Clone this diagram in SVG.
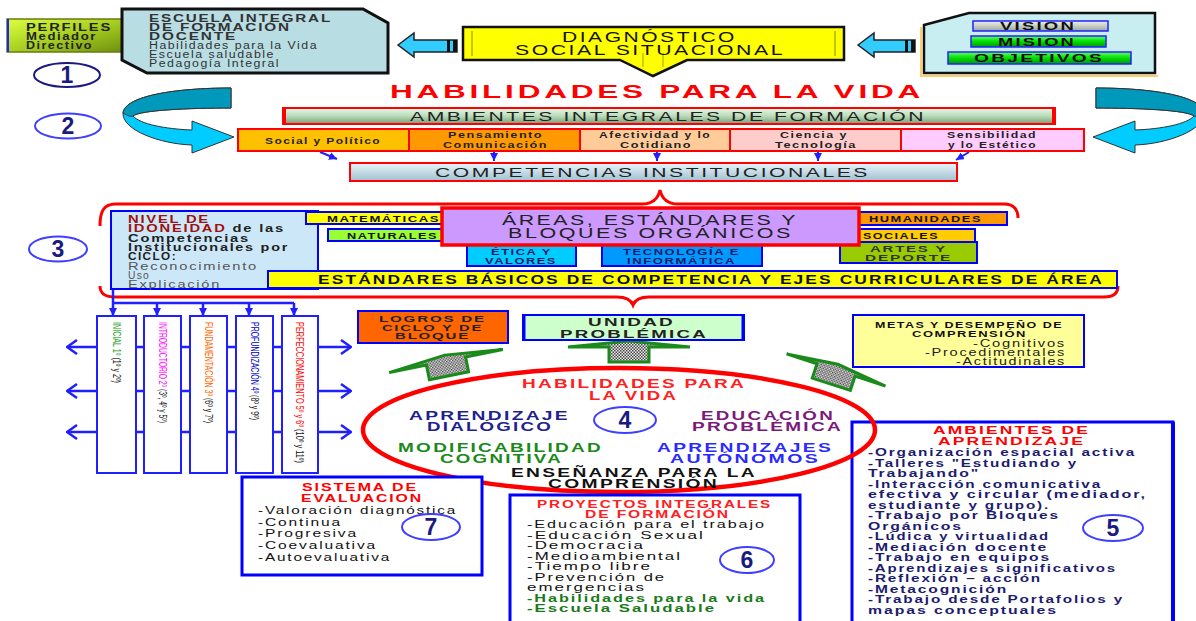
<svg xmlns="http://www.w3.org/2000/svg" width="1196" height="621" viewBox="0 0 1196 621">
<defs>
<style>
text{font-family:"Liberation Sans",Arial,Helvetica,sans-serif;letter-spacing:0.12em;}
.b{font-weight:bold;}
.c{stroke:#1f1fff;stroke-width:2.5;fill:none;}
.cs{stroke:#1f1fff;stroke-width:2;fill:none;}
.bb{stroke:#0000ff;stroke-width:2;}
.rb{stroke:#ff0000;stroke-width:2;}
.ne{fill:#fff;stroke:#3f3fff;stroke-width:2;}
.n{font-weight:bold;font-size:23px;fill:#1a1a80;text-anchor:middle;letter-spacing:0;}
.cat{font-size:9.5px;font-weight:bold;fill:#222;}
.el{font-size:12px;font-weight:bold;}
.col{fill:#fff;stroke:#1f1fff;stroke-width:2;}
.vt{font-size:11.5px;letter-spacing:0;}
.ga{fill:url(#chk);stroke:#1a8a1a;stroke-width:3;stroke-linejoin:miter;}
.sa{fill:#33ccff;stroke:#222;stroke-width:1.5;}
.ca{fill:#00ccff;stroke:#333;stroke-width:1;}
.cad{fill:#0099bb;stroke:#333;stroke-width:1;}
.brace{fill:none;stroke:#ff0000;stroke-width:3;}
.it{font-size:11px;fill:#111;}
.pr{font-size:10.5px;fill:#111;}
.am{font-size:10.5px;font-weight:bold;fill:#1c1c6e;}
</style>
<linearGradient id="gPer" x1="0" y1="0" x2="1" y2="1"><stop offset="0" stop-color="#dcff40"/><stop offset="0.5" stop-color="#a8d020"/><stop offset="1" stop-color="#6f8f10"/></linearGradient>
<linearGradient id="gAmb" x1="0" y1="0" x2="0" y2="1"><stop offset="0" stop-color="#eaf8ea"/><stop offset="0.5" stop-color="#b8dcb8"/><stop offset="1" stop-color="#7a9a7a"/></linearGradient>
<linearGradient id="gComp" x1="0" y1="0" x2="0" y2="1"><stop offset="0" stop-color="#e8f6fc"/><stop offset="1" stop-color="#9fc0d0"/></linearGradient>
<linearGradient id="gVis" x1="0" y1="0" x2="0" y2="1"><stop offset="0" stop-color="#f2f2f2"/><stop offset="1" stop-color="#98a898"/></linearGradient>
<linearGradient id="gMis" x1="0" y1="0" x2="0" y2="1"><stop offset="0" stop-color="#66ff66"/><stop offset="0.5" stop-color="#00dd00"/><stop offset="1" stop-color="#009900"/></linearGradient>
<pattern id="chk" width="3" height="3" patternUnits="userSpaceOnUse"><rect width="3" height="3" fill="#eee"/><rect width="1.5" height="1.5" fill="#444"/><rect x="1.5" y="1.5" width="1.5" height="1.5" fill="#444"/></pattern>
<marker id="tri" viewBox="0 0 10 10" refX="10" refY="5" markerWidth="8" markerHeight="8" markerUnits="userSpaceOnUse" orient="auto"><path d="M0,0 L10,5 L0,10 z" fill="#1f1fff"/></marker>
<marker id="chev" viewBox="0 0 12 16" refX="11" refY="8" markerWidth="12" markerHeight="16" markerUnits="userSpaceOnUse" orient="auto"><path d="M1,1 L11,8 L1,15" fill="none" stroke="#1f1fff" stroke-width="2.5"/></marker>
</defs>
<rect width="1196" height="621" fill="#fff"/>

<g id="connectors">
  <g id="arrow-left-top">
    <path class="sa" d="M398,45 L414,33 L414,40 L457,40 L457,52 L414,52 L414,57 Z"/>
    <rect x="447" y="40" width="3" height="12" fill="#111"/><rect x="453" y="40" width="4" height="12" fill="#111"/>
  </g>
  <g id="arrow-right-top">
    <path class="sa" d="M858,45 L874,33 L874,40 L915,40 L915,52 L874,52 L874,57 Z"/>
    <rect x="905" y="40" width="3" height="12" fill="#111"/><rect x="911" y="40" width="4" height="12" fill="#111"/>
  </g>
  <g id="curve-left">
    <path class="ca" d="M231,88 C175,88 125,96 123,113 C122,130 160,144 192,145 L192,153 L234,137 L192,121 L192,130 C165,129 140,124 133,116 C140,110 190,108 231,108 Z"/>
    <path class="cad" d="M231,88 C175,88 125,96 123,113 C128,116 131,117 133,116 C140,110 190,108 231,108 Z"/>
  </g>
  <g id="curve-right" transform="matrix(-1,0,0,1,1327,0)">
    <path class="ca" d="M231,88 C175,88 125,96 123,113 C122,130 160,144 192,145 L192,153 L234,137 L192,121 L192,130 C165,129 140,124 133,116 C140,110 190,108 231,108 Z"/>
    <path class="cad" d="M231,88 C175,88 125,96 123,113 C128,116 131,117 133,116 C140,110 190,108 231,108 Z"/>
  </g>
  <path class="cs" d="M320,152 L337,159" marker-end="url(#tri)"/>
  <path class="cs" d="M494,152 V161" marker-end="url(#tri)"/>
  <path class="cs" d="M657,152 V161" marker-end="url(#tri)"/>
  <path class="cs" d="M818,152 V161" marker-end="url(#tri)"/>
  <path class="cs" d="M969,152 L956,160" marker-end="url(#tri)"/>
  <path class="brace" d="M100,226 C100,212 103,204 116,204 L642,204 C653,204 658,199 660,190 C662,199 667,204 678,204 L1004,204 C1013,204 1018,209 1018,218"/>
  <path class="brace" d="M100,286 C100,293 104,297 116,297 L617,297 C627,297 631,300 633,305 C635,300 639,297 649,297 L1104,297 C1114,297 1118,293 1118,286"/>
  <path class="c" d="M113,289 V316" marker-end="url(#tri)"/>
  <path class="c" d="M113,303 H294"/>
  <path class="c" d="M157,303 V316" marker-end="url(#tri)"/>
  <path class="c" d="M203,303 V316" marker-end="url(#tri)"/>
  <path class="c" d="M249,303 V316" marker-end="url(#tri)"/>
  <path class="c" d="M294,303 V316" marker-end="url(#tri)"/>
  <path class="c" d="M97,347 H318 M97,391 H318 M97,432 H318"/>
  <path class="c" d="M97,347 H67" marker-end="url(#chev)"/>
  <path class="c" d="M97,391 H67" marker-end="url(#chev)"/>
  <path class="c" d="M97,432 H67" marker-end="url(#chev)"/>
  <path class="c" d="M318,347 H351" marker-end="url(#chev)"/>
  <path class="c" d="M318,391 H351" marker-end="url(#chev)"/>
  <path class="c" d="M318,432 H351" marker-end="url(#chev)"/>
  <polygon class="ga" transform="translate(446,361) rotate(-11.5)" points="-20,15 20,15 20,0 58,0 0,-6 -58,0 -20,0"/>
  <polygon class="ga" transform="translate(629,347)" points="-20,15 20,15 20,0 61,0 0,-6 -61,0 -20,0"/>
  <polygon class="ga" transform="translate(836,370) rotate(18)" points="-20,15 20,15 20,0 52,0 0,-6 -52,0 -20,0"/>
</g>

<g id="perfiles">
  <rect x="7" y="19" width="115" height="33" fill="url(#gPer)" stroke="#6b7a10" stroke-width="1.5"/>
  <line x1="8" y1="19" x2="8" y2="52" stroke="#2020ff" stroke-width="2"/>
  <text class="b" font-size="10" x="26" y="31" textLength="86" lengthAdjust="spacingAndGlyphs" fill="#222">PERFILES</text>
  <text class="b" font-size="10" x="26" y="40" textLength="71" lengthAdjust="spacingAndGlyphs" fill="#222">Mediador</text>
  <text class="b" font-size="10" x="26" y="49" textLength="67" lengthAdjust="spacingAndGlyphs" fill="#222">Directivo</text>
</g>

<g id="escuela">
  <path d="M122,9 H363 L388,23 V73 H147 L122,60 Z" fill="#b8dde3" stroke="#111" stroke-width="3"/>
  <text class="b" font-size="10" x="149" y="22" textLength="183" lengthAdjust="spacingAndGlyphs" fill="#333">ESCUELA INTEGRAL</text>
  <text class="b" font-size="10" x="149" y="31" textLength="142" lengthAdjust="spacingAndGlyphs" fill="#333">DE FORMACIÓN</text>
  <text class="b" font-size="10" x="149" y="40" textLength="88" lengthAdjust="spacingAndGlyphs" fill="#333">DOCENTE</text>
  <text font-size="10" x="149" y="49" textLength="169" lengthAdjust="spacingAndGlyphs" fill="#333">Habilidades para la Vida</text>
  <text font-size="10" x="149" y="58" textLength="126" lengthAdjust="spacingAndGlyphs" fill="#333">Escuela saludable</text>
  <text font-size="10" x="149" y="67" textLength="131" lengthAdjust="spacingAndGlyphs" fill="#333">Pedagogía Integral</text>
</g>

<g id="diagnostico">
  <path d="M463,27 H844 V60 H687 L653,76 L620,60 H463 Z" fill="#ffff00" stroke="#111" stroke-width="2.5"/>
  <line x1="472" y1="31" x2="472" y2="56" stroke="#b0b000" stroke-width="1.5"/>
  <line x1="835" y1="31" x2="835" y2="56" stroke="#b0b000" stroke-width="1.5"/>
  <line x1="643" y1="53" x2="643" y2="67" stroke="#b0b000" stroke-width="1.2"/>
  <line x1="663" y1="53" x2="663" y2="67" stroke="#b0b000" stroke-width="1.2"/>
  <text font-size="14.5" x="562" y="42" textLength="175" lengthAdjust="spacingAndGlyphs" fill="#111">DIAGNÓSTICO</text>
  <text font-size="14.5" x="515" y="55" textLength="270" lengthAdjust="spacingAndGlyphs" fill="#111">SOCIAL SITUACIONAL</text>
</g>

<g id="vision">
  <path d="M921,27 V76 H1158" fill="none" stroke="#ffcc66" stroke-width="2"/>
  <path d="M924,25 L969,13 H1155 V73 H924 Z" fill="#c8eef2" stroke="#111" stroke-width="2.5"/>
  <rect x="973" y="21" width="135" height="10" fill="url(#gVis)" stroke="#2020ff" stroke-width="1.5"/>
  <rect x="971" y="36" width="135" height="11" fill="url(#gMis)" stroke="#2020ff" stroke-width="1.5"/>
  <rect x="948" y="52" width="183" height="12" fill="url(#gMis)" stroke="#2020ff" stroke-width="1.5"/>
  <text class="b" font-size="11" x="1000" y="30" textLength="76" lengthAdjust="spacingAndGlyphs" fill="#111">VISION</text>
  <text class="b" font-size="11" x="998" y="46" textLength="78" lengthAdjust="spacingAndGlyphs" fill="#111">MISION</text>
  <text class="b" font-size="11" x="974" y="62" textLength="130" lengthAdjust="spacingAndGlyphs" fill="#111">OBJETIVOS</text>
</g>

<g id="n1"><ellipse cx="67" cy="75" rx="33" ry="12" fill="#fff" stroke="#1a1a80" stroke-width="2"/><text class="n" x="67" y="83">1</text></g>
<g id="n2"><ellipse class="ne" cx="68" cy="126" rx="33" ry="12.5"/><text class="n" x="68" y="134">2</text></g>
<g id="n3"><ellipse class="ne" cx="58" cy="249" rx="29" ry="12.5"/><text class="n" x="58" y="257">3</text></g>

<g id="titulo">
  <text class="b" font-size="18" x="390" y="98" textLength="534" lengthAdjust="spacingAndGlyphs" fill="#ff0000">HABILIDADES PARA LA VIDA</text>
</g>

<g id="ambientes-integrales">
  <rect x="283" y="108" width="772" height="16" fill="url(#gAmb)" stroke="#ff0000" stroke-width="2"/>
  <line x1="284" y1="108" x2="284" y2="124" stroke="#ff0000" stroke-width="4"/>
  <line x1="1054" y1="108" x2="1054" y2="124" stroke="#ff0000" stroke-width="4"/>
  <text font-size="13" x="410" y="120.5" textLength="516" lengthAdjust="spacingAndGlyphs" fill="#222">AMBIENTES INTEGRALES DE FORMACIÓN</text>
</g>

<g id="dimensiones">
  <rect x="238" y="129" width="171" height="22" fill="#ffc000" class="rb"/>
  <rect x="409" y="129" width="171" height="22" fill="#ff9900" class="rb"/>
  <rect x="580" y="129" width="150" height="22" fill="#ffcc99" class="rb"/>
  <rect x="730" y="129" width="171" height="22" fill="#ffcccc" class="rb"/>
  <rect x="901" y="129" width="183" height="22" fill="#ffccff" class="rb"/>
  <text class="cat" x="265" y="144" textLength="116" lengthAdjust="spacingAndGlyphs">Social y Político</text>
  <text class="cat" x="448" y="137.5" textLength="95" lengthAdjust="spacingAndGlyphs">Pensamiento</text>
  <text class="cat" x="443" y="147.5" textLength="105" lengthAdjust="spacingAndGlyphs">Comunicación</text>
  <text class="cat" x="599" y="138" textLength="112" lengthAdjust="spacingAndGlyphs">Afectividad y lo</text>
  <text class="cat" x="620" y="147.5" textLength="72" lengthAdjust="spacingAndGlyphs">Cotidiano</text>
  <text class="cat" x="780" y="137.5" textLength="68" lengthAdjust="spacingAndGlyphs">Ciencia y</text>
  <text class="cat" x="775" y="147.5" textLength="82" lengthAdjust="spacingAndGlyphs">Tecnología</text>
  <text class="cat" x="947" y="137.5" textLength="90" lengthAdjust="spacingAndGlyphs">Sensibilidad</text>
  <text class="cat" x="948" y="148" textLength="89" lengthAdjust="spacingAndGlyphs">y lo Estético</text>
</g>

<g id="competencias">
  <rect x="350" y="163" width="607" height="18" fill="url(#gComp)" stroke="#ff0000" stroke-width="2"/>
  <text font-size="12.5" x="435" y="177" textLength="435" lengthAdjust="spacingAndGlyphs" fill="#222">COMPETENCIAS INSTITUCIONALES</text>
</g>

<g id="nivel">
  <rect x="111" y="211" width="207" height="78" fill="#cce8f8" class="bb"/>
  <text class="b" font-size="10" x="128" y="223" textLength="82" lengthAdjust="spacingAndGlyphs" fill="#a01010">NIVEL DE</text>
  <text class="b" font-size="10" x="128" y="232" textLength="157" lengthAdjust="spacingAndGlyphs" fill="#222"><tspan fill="#a01010">IDONEIDAD</tspan> de las</text>
  <text class="b" font-size="10" x="128" y="242" textLength="122" lengthAdjust="spacingAndGlyphs" fill="#222">Competencias</text>
  <text class="b" font-size="10" x="128" y="251" textLength="161" lengthAdjust="spacingAndGlyphs" fill="#222">Institucionales por</text>
  <text class="b" font-size="10" x="128" y="260" textLength="49" lengthAdjust="spacingAndGlyphs" fill="#222">CICLO:</text>
  <text font-size="10" x="128" y="270" textLength="130" lengthAdjust="spacingAndGlyphs" fill="#555">Reconocimiento</text>
  <text font-size="10" x="128" y="279" textLength="22" lengthAdjust="spacingAndGlyphs" fill="#555">Uso</text>
  <text font-size="10" x="128" y="288" textLength="93" lengthAdjust="spacingAndGlyphs" fill="#555">Explicación</text>
</g>

<g id="areas-laterales">
  <rect x="306" y="212" width="140" height="12" fill="#ffff00" class="bb"/>
  <text class="b" font-size="9" x="327" y="222" textLength="113" lengthAdjust="spacingAndGlyphs" fill="#111">MATEMÁTICAS</text>
  <rect x="328" y="229" width="118" height="12" fill="#99ff33" class="bb"/>
  <text class="b" font-size="9" x="347" y="239" textLength="91" lengthAdjust="spacingAndGlyphs" fill="#111">NATURALES</text>
  <rect x="467" y="244" width="109" height="22" fill="#00ccff" class="bb"/>
  <text class="b" font-size="9.5" x="491" y="255" textLength="61" lengthAdjust="spacingAndGlyphs" fill="#1a1a66">ÉTICA Y</text>
  <text class="b" font-size="9.5" x="485" y="264" textLength="72" lengthAdjust="spacingAndGlyphs" fill="#1a1a66">VALORES</text>
  <rect x="602" y="244" width="160" height="22" fill="#0099ff" class="bb"/>
  <text class="b" font-size="9.5" x="623" y="255" textLength="117" lengthAdjust="spacingAndGlyphs" fill="#1a1a66">TECNOLOGÍA E</text>
  <text class="b" font-size="9.5" x="627" y="264" textLength="109" lengthAdjust="spacingAndGlyphs" fill="#1a1a66">INFORMÁTICA</text>
  <rect x="855" y="212" width="152" height="13" fill="#ff9900" class="bb"/>
  <text class="b" font-size="9" x="869" y="222" textLength="113" lengthAdjust="spacingAndGlyphs" fill="#111">HUMANIDADES</text>
  <rect x="855" y="229" width="120" height="13" fill="#ffcc00" class="bb"/>
  <text class="b" font-size="9" x="863" y="239" textLength="76" lengthAdjust="spacingAndGlyphs" fill="#111">SOCIALES</text>
  <rect x="840" y="242" width="137" height="21" fill="#99cc00" class="bb"/>
  <text class="b" font-size="9.5" x="870" y="252" textLength="77" lengthAdjust="spacingAndGlyphs" fill="#333">ARTES Y</text>
  <text class="b" font-size="9.5" x="865" y="261" textLength="87" lengthAdjust="spacingAndGlyphs" fill="#333">DEPORTE</text>
</g>

<g id="areas">
  <rect x="442" y="208" width="417" height="37" fill="#cc99ff" stroke="#ff0000" stroke-width="3.5"/>
  <text font-size="14" x="502" y="225" textLength="296" lengthAdjust="spacingAndGlyphs" fill="#222">ÁREAS, ESTÁNDARES Y</text>
  <text font-size="14" x="508" y="238" textLength="285" lengthAdjust="spacingAndGlyphs" fill="#222">BLOQUES ORGÁNICOS</text>
</g>

<g id="estandares">
  <rect x="268" y="271" width="849" height="17" fill="#ffff00" class="bb"/>
  <text class="b" font-size="12.5" x="318" y="284" textLength="786" lengthAdjust="spacingAndGlyphs" fill="#111">ESTÁNDARES BÁSICOS DE COMPETENCIA Y EJES CURRICULARES DE ÁREA</text>
</g>

<g id="ciclo1"><rect class="col" x="97" y="316" width="39" height="157"/>
  <text class="vt" transform="translate(112.5,322) rotate(90)" textLength="61" lengthAdjust="spacingAndGlyphs" fill="#111"><tspan fill="#1a9a1a">INICIAL 1º</tspan> (1º y 2º)</text></g>
<g id="ciclo2"><rect class="col" x="144" y="316" width="37" height="157"/>
  <text class="vt" transform="translate(158.5,322) rotate(90)" textLength="101" lengthAdjust="spacingAndGlyphs" fill="#111"><tspan fill="#ff00ff">INTRODUCTORIO 2º</tspan> (3º, 4º y 5º)</text></g>
<g id="ciclo3"><rect class="col" x="190" y="316" width="37" height="157"/>
  <text class="vt" transform="translate(204.5,322) rotate(90)" textLength="101" lengthAdjust="spacingAndGlyphs" fill="#111"><tspan fill="#ff6600">FUNDAMENTACIÓN 3º</tspan> (6º y 7º)</text></g>
<g id="ciclo4"><rect class="col" x="236" y="316" width="37" height="157"/>
  <text class="vt" transform="translate(250.5,322) rotate(90)" textLength="98" lengthAdjust="spacingAndGlyphs" fill="#111"><tspan fill="#0000cc">PROFUNDIZACIÓN 4º</tspan> (8º y 9º)</text></g>
<g id="ciclo5"><rect class="col" x="282" y="316" width="36" height="157"/>
  <text class="vt" transform="translate(296,322) rotate(90)" textLength="141" lengthAdjust="spacingAndGlyphs" fill="#111"><tspan fill="#ff0000">PERFECCIONAMIENTO 5º y 6º</tspan> (10º y 11º)</text></g>

<g id="logros">
  <rect x="358" y="311" width="150" height="32" fill="#ff6600" class="bb"/>
  <text class="b" font-size="9" x="379" y="322" textLength="107" lengthAdjust="spacingAndGlyphs" fill="#222">LOGROS DE</text>
  <text class="b" font-size="9" x="382" y="330.5" textLength="101" lengthAdjust="spacingAndGlyphs" fill="#222">CICLO Y DE</text>
  <text class="b" font-size="9" x="395" y="339" textLength="75" lengthAdjust="spacingAndGlyphs" fill="#222">BLOQUE</text>
</g>

<g id="unidad">
  <rect x="523" y="315" width="221" height="25" fill="#ccffcc" class="bb"/>
  <line x1="524" y1="315" x2="524" y2="340" stroke="#0000ff" stroke-width="3"/>
  <line x1="743" y1="315" x2="743" y2="340" stroke="#0000ff" stroke-width="3"/>
  <text class="b" font-size="11.5" x="588" y="326" textLength="87" lengthAdjust="spacingAndGlyphs" fill="#222">UNIDAD</text>
  <text class="b" font-size="11.5" x="560" y="337.5" textLength="148" lengthAdjust="spacingAndGlyphs" fill="#222">PROBLÉMICA</text>
</g>

<g id="metas">
  <rect x="853" y="315" width="231" height="52" fill="#ffff99" class="bb"/>
  <text class="b" font-size="9" x="875" y="328" textLength="188" lengthAdjust="spacingAndGlyphs" fill="#111">METAS Y DESEMPEÑO DE</text>
  <text class="b" font-size="9" x="912" y="337" textLength="115" lengthAdjust="spacingAndGlyphs" fill="#111">COMPRENSIÓN</text>
  <text font-size="10" x="973" y="347" textLength="93" lengthAdjust="spacingAndGlyphs" fill="#222">-Cognitivos</text>
  <text font-size="10" x="925" y="356" textLength="141" lengthAdjust="spacingAndGlyphs" fill="#222">-Procedimentales</text>
  <text font-size="10" x="956" y="365" textLength="110" lengthAdjust="spacingAndGlyphs" fill="#222">-Actitudinales</text>
</g>

<g id="ambientes-aprendizaje">
  <rect x="852" y="422" width="321" height="205" fill="none" stroke="#0000ff" stroke-width="3"/>
  <line x1="1173" y1="422" x2="1173" y2="621" stroke="#0000ff" stroke-width="4"/>
  <text class="b" font-size="11.5" x="933" y="434" textLength="157" lengthAdjust="spacingAndGlyphs" fill="#ff0000">AMBIENTES DE</text>
  <text class="b" font-size="11.5" x="938" y="445" textLength="147" lengthAdjust="spacingAndGlyphs" fill="#ff0000">APRENDIZAJE</text>
  <text class="am" x="868" y="456" textLength="268" lengthAdjust="spacingAndGlyphs">-Organización espacial activa</text>
  <text class="am" x="868" y="467" textLength="210" lengthAdjust="spacingAndGlyphs">-Talleres "Estudiando y</text>
  <text class="am" x="868" y="477" textLength="112" lengthAdjust="spacingAndGlyphs">Trabajando"</text>
  <text class="am" x="868" y="488" textLength="234" lengthAdjust="spacingAndGlyphs">-Interacción comunicativa</text>
  <text class="am" x="868" y="498" textLength="279" lengthAdjust="spacingAndGlyphs">efectiva y circular  (mediador,</text>
  <text class="am" x="868" y="509" textLength="182" lengthAdjust="spacingAndGlyphs">estudiante y grupo).</text>
  <text class="am" x="868" y="519" textLength="192" lengthAdjust="spacingAndGlyphs">-Trabajo por Bloques</text>
  <text class="am" x="868" y="530" textLength="95" lengthAdjust="spacingAndGlyphs">Orgánicos</text>
  <text class="am" x="868" y="540" textLength="182" lengthAdjust="spacingAndGlyphs">-Lúdica y virtualidad</text>
  <text class="am" x="868" y="551" textLength="180" lengthAdjust="spacingAndGlyphs">-Mediación docente</text>
  <text class="am" x="868" y="561" textLength="183" lengthAdjust="spacingAndGlyphs">-Trabajo en equipos</text>
  <text class="am" x="868" y="572" textLength="249" lengthAdjust="spacingAndGlyphs">-Aprendizajes significativos</text>
  <text class="am" x="868" y="582" textLength="174" lengthAdjust="spacingAndGlyphs">-Reflexión – acción</text>
  <text class="am" x="868" y="593" textLength="140" lengthAdjust="spacingAndGlyphs">-Metacognición</text>
  <text class="am" x="868" y="603" textLength="256" lengthAdjust="spacingAndGlyphs">-Trabajo desde Portafolios y</text>
  <text class="am" x="868" y="614" textLength="190" lengthAdjust="spacingAndGlyphs">mapas conceptuales</text>
  <ellipse class="ne" cx="1113" cy="528" rx="30" ry="13"/><text class="n" x="1113" y="536">5</text>
</g>

<g id="nucleo">
  <ellipse cx="619" cy="430" rx="256" ry="62" fill="none" stroke="#ff0000" stroke-width="4.5"/>
  <text class="el" x="522" y="388" textLength="224" lengthAdjust="spacingAndGlyphs" fill="#ff2020">HABILIDADES PARA</text>
  <text class="el" x="589" y="399.5" textLength="89" lengthAdjust="spacingAndGlyphs" fill="#ff2020">LA VIDA</text>
  <text class="el" x="409" y="419.5" textLength="161" lengthAdjust="spacingAndGlyphs" fill="#1f1f8f">APRENDIZAJE</text>
  <text class="el" x="427" y="431" textLength="126" lengthAdjust="spacingAndGlyphs" fill="#1f1f8f">DIALÓGICO</text>
  <text class="el" x="701" y="419.5" textLength="134" lengthAdjust="spacingAndGlyphs" fill="#7a1a7a">EDUCACIÓN</text>
  <text class="el" x="692" y="431" textLength="151" lengthAdjust="spacingAndGlyphs" fill="#7a1a7a">PROBLÉMICA</text>
  <text class="el" x="398" y="451.5" textLength="205" lengthAdjust="spacingAndGlyphs" fill="#1a8a1a">MODIFICABILIDAD</text>
  <text class="el" x="440" y="463" textLength="123" lengthAdjust="spacingAndGlyphs" fill="#1a8a1a">COGNITIVA</text>
  <text class="el" x="657" y="451.5" textLength="176" lengthAdjust="spacingAndGlyphs" fill="#2a2aff">APRENDIZAJES</text>
  <text class="el" x="670" y="463" textLength="150" lengthAdjust="spacingAndGlyphs" fill="#2a2aff">AUTÓNOMOS</text>
  <text class="el" x="511" y="476.5" textLength="246" lengthAdjust="spacingAndGlyphs" fill="#111">ENSEÑANZA PARA LA</text>
  <text class="el" x="548" y="488" textLength="171" lengthAdjust="spacingAndGlyphs" fill="#111">COMPRENSIÓN</text>
  <ellipse class="ne" cx="625" cy="420" rx="31" ry="13"/><text class="n" x="625" y="428">4</text>
</g>

<g id="evaluacion">
  <rect x="242" y="477" width="240" height="98" fill="#fff" stroke="#0000ff" stroke-width="3"/>
  <text class="b" font-size="11.5" x="302" y="491" textLength="116" lengthAdjust="spacingAndGlyphs" fill="#ff0000">SISTEMA  DE</text>
  <text class="b" font-size="11.5" x="301" y="502" textLength="122" lengthAdjust="spacingAndGlyphs" fill="#ff0000">EVALUACION</text>
  <text class="it" x="258" y="514" textLength="199" lengthAdjust="spacingAndGlyphs">-Valoración diagnóstica</text>
  <text class="it" x="258" y="526" textLength="84" lengthAdjust="spacingAndGlyphs">-Continua</text>
  <text class="it" x="258" y="537" textLength="100" lengthAdjust="spacingAndGlyphs">-Progresiva</text>
  <text class="it" x="258" y="549" textLength="119" lengthAdjust="spacingAndGlyphs">-Coevaluativa</text>
  <text class="it" x="258" y="561" textLength="133" lengthAdjust="spacingAndGlyphs">-Autoevaluativa</text>
  <ellipse class="ne" cx="431" cy="527" rx="29" ry="13"/><text class="n" x="431" y="535">7</text>
</g>

<g id="proyectos">
  <rect x="510" y="495" width="290" height="132" fill="#fff" stroke="#0000ff" stroke-width="3"/>
  <text class="b" font-size="10" x="537" y="508" textLength="235" lengthAdjust="spacingAndGlyphs" fill="#ff2020">PROYECTOS INTEGRALES</text>
  <text class="b" font-size="10" x="585" y="517.5" textLength="145" lengthAdjust="spacingAndGlyphs" fill="#ff2020">DE FORMACIÓN</text>
  <text class="pr" x="527" y="528" textLength="239" lengthAdjust="spacingAndGlyphs">-Educación para el trabajo</text>
  <text class="pr" x="527" y="539" textLength="178" lengthAdjust="spacingAndGlyphs">-Educación  Sexual</text>
  <text class="pr" x="527" y="549" textLength="118" lengthAdjust="spacingAndGlyphs">-Democracia</text>
  <text class="pr" x="527" y="560" textLength="155" lengthAdjust="spacingAndGlyphs">-Medioambiental</text>
  <text class="pr" x="527" y="570" textLength="125" lengthAdjust="spacingAndGlyphs">-Tiempo  libre</text>
  <text class="pr" x="527" y="581" textLength="139" lengthAdjust="spacingAndGlyphs">-Prevención de</text>
  <text class="pr" x="527" y="591" textLength="119" lengthAdjust="spacingAndGlyphs">emergencias</text>
  <text class="pr b" x="527" y="602" textLength="239" lengthAdjust="spacingAndGlyphs" style="fill:#1a7a1a">-Habilidades para la vida</text>
  <text class="pr b" x="527" y="612" textLength="189" lengthAdjust="spacingAndGlyphs" style="fill:#1a7a1a">-Escuela Saludable</text>
  <ellipse class="ne" cx="747" cy="560" rx="27" ry="13"/><text class="n" x="747" y="568">6</text>
</g>
</svg>
